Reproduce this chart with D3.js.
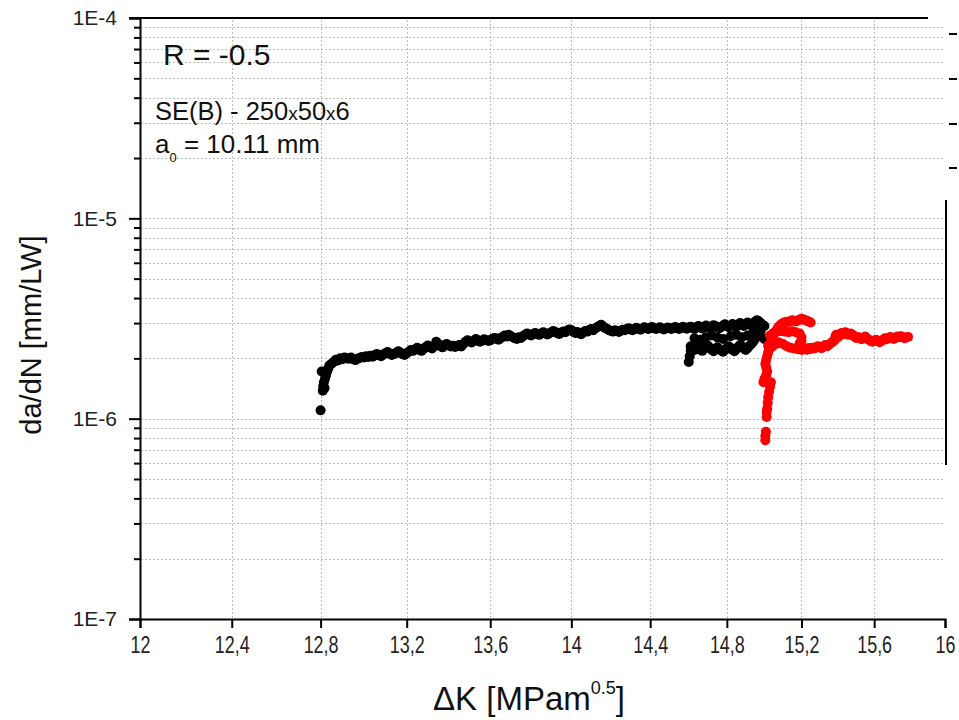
<!DOCTYPE html>
<html>
<head>
<meta charset="utf-8">
<script src="https://cdn.jsdelivr.net/npm/d3@7/dist/d3.min.js"></script>
<style>
  body { margin: 0; background: #fff; }
  svg { display: block; }
  .tick text { fill: #222; }
</style>
</head>
<body>
<svg id="chart" width="959" height="720"></svg>
<script>
// tick labels
const xTicks = [12, 12.4, 12.8, 13.2, 13.6, 14, 14.4, 14.8, 15.2, 15.6, 16];
const yMajor = [1e-7, 1e-6, 1e-5, 1e-4];

// [dK (MPa m^0.5), da/dN (x1E-6 mm/LW)]
const blackSeries = [
  [12.800,1.10],[12.805,1.72],[12.810,1.38],[12.812,1.45],[12.815,1.52],[12.818,1.42],[12.820,1.58],
  [12.825,1.65],[12.830,1.72],[12.835,1.78],[12.840,1.84],[12.850,1.88],[12.860,1.92],[12.870,1.97],
  [12.880,1.95],[12.890,2.00],[12.900,1.98],[12.910,2.02],[12.920,2.00],[12.930,1.99],[12.940,2.02],
  [12.950,1.98],[12.960,1.96],[12.970,1.99],[12.980,2.01],[12.990,2.03],[13.000,2.02],[13.010,2.05],
  [13.020,2.03],[13.030,2.06],[13.040,2.04],[13.050,2.08],[13.060,2.10],[13.070,2.07],[13.080,2.05],
  [13.090,2.09],[13.100,2.12],[13.110,2.15],[13.120,2.11],[13.130,2.08],[13.140,2.10],[13.150,2.13],
  [13.160,2.17],[13.170,2.14],[13.180,2.10],[13.190,2.08],[13.200,2.12],[13.210,2.16],[13.220,2.20],
  [13.230,2.18],[13.240,2.22],[13.250,2.26],[13.260,2.20],[13.270,2.18],[13.280,2.23],[13.290,2.28],
  [13.300,2.32],[13.310,2.27],[13.320,2.24],[13.330,2.30],[13.340,2.42],[13.350,2.36],[13.360,2.30],
  [13.370,2.27],[13.380,2.33],[13.390,2.36],[13.400,2.32],[13.410,2.29],[13.420,2.31],[13.430,2.28],
  [13.440,2.30],[13.450,2.33],[13.460,2.29],[13.470,2.36],[13.480,2.42],[13.490,2.46],[13.500,2.43],
  [13.510,2.40],[13.520,2.44],[13.530,2.50],[13.540,2.46],[13.550,2.42],[13.560,2.45],[13.570,2.49],
  [13.580,2.47],[13.590,2.44],[13.600,2.46],[13.610,2.50],[13.620,2.53],[13.630,2.51],[13.640,2.48],
  [13.650,2.52],[13.660,2.56],[13.670,2.60],[13.680,2.57],[13.690,2.62],[13.700,2.58],[13.710,2.55],
  [13.720,2.52],[13.730,2.50],[13.740,2.55],[13.750,2.53],[13.760,2.58],[13.770,2.62],[13.780,2.66],
  [13.790,2.63],[13.800,2.60],[13.810,2.64],[13.820,2.68],[13.830,2.65],[13.840,2.62],[13.850,2.66],
  [13.860,2.70],[13.870,2.67],[13.880,2.63],[13.890,2.66],[13.900,2.70],[13.910,2.74],[13.920,2.71],
  [13.930,2.67],[13.940,2.65],[13.950,2.69],[13.960,2.72],[13.970,2.70],[13.980,2.75],[13.990,2.79],
  [14.000,2.76],[14.010,2.72],[14.020,2.68],[14.030,2.71],[14.040,2.66],[14.050,2.64],[14.060,2.70],
  [14.070,2.74],[14.080,2.72],[14.090,2.77],[14.100,2.80],[14.110,2.76],[14.120,2.82],[14.130,2.86],
  [14.140,2.90],[14.150,2.94],[14.160,2.88],[14.170,2.84],[14.180,2.80],[14.190,2.76],[14.200,2.74],
  [14.210,2.72],[14.220,2.76],[14.230,2.74],[14.240,2.71],[14.250,2.75],[14.260,2.78],[14.270,2.76],
  [14.280,2.80],[14.290,2.83],[14.300,2.79],[14.310,2.76],[14.320,2.80],[14.330,2.84],[14.340,2.81],
  [14.350,2.78],[14.360,2.82],[14.370,2.86],[14.380,2.83],[14.390,2.80],[14.400,2.84],[14.410,2.87],
  [14.420,2.83],[14.430,2.80],[14.440,2.83],[14.450,2.86],[14.460,2.82],[14.470,2.79],[14.480,2.82],
  [14.490,2.85],[14.500,2.83],[14.510,2.80],[14.520,2.84],[14.530,2.87],[14.540,2.83],[14.550,2.80],
  [14.560,2.84],[14.570,2.88],[14.580,2.84],[14.590,2.81],[14.600,2.85],
  // upper track
  [14.610,2.88],[14.620,2.84],[14.630,2.80],[14.640,2.86],[14.650,2.90],[14.660,2.86],[14.670,2.82],
  [14.680,2.86],[14.690,2.92],[14.700,2.88],[14.710,2.84],[14.720,2.88],[14.730,2.93],[14.740,2.89],
  [14.750,2.85],[14.760,2.82],[14.770,2.87],[14.780,2.92],[14.790,2.96],[14.800,2.90],[14.810,2.86],
  [14.820,2.91],[14.830,2.97],[14.840,2.93],[14.850,2.88],[14.860,2.94],[14.870,3.00],[14.880,2.96],
  [14.890,2.90],[14.900,2.95],[14.910,3.02],[14.920,2.98],[14.930,2.92],[14.940,2.97],[14.950,3.05],
  [14.960,3.10],[14.970,3.06],[14.980,3.00],[14.990,2.94],[15.000,2.90],
  // lower track
  [14.600,1.92],[14.605,2.05],[14.610,2.18],[14.610,2.30],[14.620,2.25],[14.630,2.20],[14.640,2.24],
  [14.650,2.28],[14.660,2.22],[14.670,2.18],[14.680,2.23],[14.690,2.27],[14.700,2.31],[14.710,2.26],
  [14.720,2.21],[14.730,2.17],[14.740,2.22],[14.750,2.27],[14.760,2.23],[14.770,2.19],[14.780,2.16],
  [14.790,2.20],[14.800,2.25],[14.810,2.30],[14.820,2.26],[14.830,2.21],[14.840,2.17],[14.850,2.22],
  [14.860,2.28],[14.870,2.33],[14.880,2.29],[14.890,2.24],[14.900,2.20],[14.910,2.25],[14.920,2.31],
  [14.930,2.36],[14.940,2.42],[14.950,2.50],[14.960,2.58],[14.970,2.66],[14.980,2.74],
  // middle track
  [14.630,2.52],[14.660,2.48],[14.690,2.55],[14.720,2.60],[14.750,2.54],[14.780,2.50],[14.820,2.58],
  [14.850,2.62],[14.880,2.55],[14.910,2.60],[14.940,2.68],[14.970,2.80],[15.000,2.50]
];

const redSeries = [
  // drop
  [15.005,0.78],[15.005,0.82],[15.008,0.86],[15.012,1.02],[15.012,1.08],[15.015,1.12],[15.018,1.20],
  [15.020,1.28],[15.025,1.36],[15.030,1.44],[15.035,1.52],[14.995,1.52],[15.000,1.58],[15.010,1.65],
  [15.015,1.72],[15.010,1.80],[15.005,1.88],[15.010,1.96],[15.015,2.05],[15.020,2.14],[15.025,2.22],
  [15.030,2.30],[15.035,2.38],[15.040,2.46],[15.045,2.55],[15.050,2.64],[15.060,2.72],[15.070,2.82],
  // upper loop
  [15.080,2.90],[15.090,2.96],[15.100,3.00],[15.110,3.03],[15.120,3.05],[15.130,3.04],[15.140,3.07],
  [15.150,3.10],[15.160,3.08],[15.170,3.06],[15.180,3.09],[15.190,3.12],[15.200,3.15],[15.210,3.13],
  [15.220,3.10],[15.230,3.08],[15.240,3.05],[15.250,3.02],
  // second track
  [15.030,2.60],[15.050,2.68],[15.070,2.72],[15.090,2.75],[15.110,2.72],[15.130,2.70],[15.150,2.73],
  [15.170,2.70],[15.190,2.66],[15.200,2.55],[15.200,2.45],[15.190,2.38],
  // lower loop
  [15.020,2.32],[15.040,2.28],[15.060,2.35],[15.080,2.40],[15.100,2.36],[15.120,2.30],[15.140,2.26],
  [15.160,2.24],[15.180,2.22],[15.200,2.20],
  // tail
  [15.210,2.22],[15.220,2.24],[15.230,2.21],[15.240,2.25],[15.250,2.23],[15.260,2.26],[15.270,2.24],
  [15.280,2.27],[15.290,2.30],[15.300,2.27],[15.310,2.25],[15.320,2.29],[15.330,2.33],[15.340,2.30],
  [15.350,2.34],[15.360,2.38],[15.370,2.42],[15.380,2.46],[15.385,2.56],[15.390,2.62],[15.400,2.55],
  [15.410,2.62],[15.420,2.68],[15.430,2.64],[15.440,2.70],[15.450,2.66],[15.460,2.62],[15.470,2.66],
  [15.480,2.62],[15.490,2.57],[15.500,2.53],[15.510,2.56],[15.520,2.52],[15.530,2.49],[15.540,2.53],
  [15.550,2.57],[15.560,2.52],[15.570,2.48],[15.580,2.45],[15.590,2.42],[15.600,2.45],[15.610,2.48],
  [15.620,2.44],[15.630,2.41],[15.640,2.44],[15.650,2.48],[15.660,2.52],[15.670,2.49],[15.680,2.53],
  [15.690,2.56],[15.700,2.53],[15.710,2.50],[15.720,2.54],[15.730,2.57],[15.740,2.55],[15.750,2.58],
  [15.760,2.55],[15.770,2.52],[15.780,2.54],[15.790,2.56]
];

const svg = d3.select("#chart");
const plotL = 140, plotR = 945, plotT = 18, plotB = 619;

const x = d3.scaleLog().domain([12, 16]).range([plotL, plotR]);
const y = d3.scaleLog().domain([1e-7, 1e-4]).range([plotB, plotT]);

// minor decade ticks 2..9
const yMinor = [];
[-7, -6, -5].forEach(e => { for (let m = 2; m <= 9; m++) yMinor.push(m * Math.pow(10, e)); });

// grid
const grid = svg.append("g").attr("stroke", "#bdbdbd").attr("stroke-width", 1).attr("stroke-dasharray", "2,2");
grid.selectAll(".gy").data(yMajor.concat(yMinor).filter(v => v > 1e-7 && v < 1e-4)).enter()
  .append("line")
  .attr("x1", plotL + 1).attr("x2", plotR - 2)
  .attr("y1", d => Math.round(y(d)) + 0.5).attr("y2", d => Math.round(y(d)) + 0.5);
grid.selectAll(".gx").data(xTicks.slice(1, -1)).enter()
  .append("line")
  .attr("y1", plotT + 2).attr("y2", plotB - 1)
  .attr("x1", d => Math.round(x(d)) + 0.5).attr("x2", d => Math.round(x(d)) + 0.5);

// data
function drawSeries(data, color) {
  svg.append("g").selectAll("circle").data(data).enter()
    .append("circle")
    .attr("cx", d => x(d[0]))
    .attr("cy", d => y(d[1] * 1e-6))
    .attr("r", 5)
    .attr("fill", color);
}
drawSeries(blackSeries, "#000");
drawSeries(redSeries, "#ff0000");

// axes
const xAxis = svg.append("g")
  .attr("transform", "translate(0," + plotB + ")")
  .call(d3.axisBottom(x).tickValues(xTicks).tickSize(9).tickPadding(9)
    .tickFormat(d => String(d).replace(".", ",")));
xAxis.selectAll("text")
  .attr("font-family", "'Liberation Sans', Arial, sans-serif")
  .attr("font-size", 23)
  .attr("transform", "scale(0.78,1)");

const yAxis = svg.append("g")
  .attr("transform", "translate(" + plotL + ",0)")
  .call(d3.axisLeft(y).tickValues(yMajor).tickSize(11).tickPadding(12)
    .tickFormat(d => "1E" + Math.round(Math.log10(d))));
yAxis.selectAll("text").attr("font-family", "'Liberation Sans', Arial, sans-serif").attr("font-size", 21);

svg.append("g")
  .attr("transform", "translate(" + plotL + ",0)")
  .call(d3.axisLeft(y).tickValues(yMinor).tickSize(6).tickFormat(""))
  .select(".domain").remove();

[xAxis, yAxis].forEach(a => a.select(".domain").attr("stroke-width", 2));
svg.selectAll(".tick line").attr("stroke", "#000").attr("stroke-width", 2);
svg.selectAll(".domain").attr("stroke", "#000");

// top spine (ends short of the right edge, as in the source)
svg.append("line").attr("x1", plotL - 11).attr("x2", 928).attr("y1", plotT).attr("y2", plotT)
  .attr("stroke", "#000").attr("stroke-width", 2);
// right edge fragments
svg.append("line").attr("x1", 946).attr("x2", 946).attr("y1", 200).attr("y2", 465)
  .attr("stroke", "#000").attr("stroke-width", 2);
svg.append("g").selectAll("line").data([34, 79, 124, 168]).enter()
  .append("line").attr("x1", 949).attr("x2", 957).attr("y1", d => d).attr("y2", d => d)
  .attr("stroke", "#000").attr("stroke-width", 2);

// annotations
const ann = svg.append("g").attr("font-family", "'Liberation Sans', Arial, sans-serif").attr("fill", "#111");
ann.append("text").attr("x", 163).attr("y", 65).attr("font-size", 30).text("R = -0.5");
const t2 = ann.append("text").attr("x", 155).attr("y", 120).attr("font-size", 25.5);
t2.append("tspan").text("SE(B) - 250");
t2.append("tspan").attr("font-size", 19).text("x");
t2.append("tspan").text("50");
t2.append("tspan").attr("font-size", 19).text("x");
t2.append("tspan").text("6");
const t3 = ann.append("text").attr("x", 155).attr("y", 153).attr("font-size", 26);
t3.append("tspan").text("a");
t3.append("tspan").attr("font-size", 13).attr("dy", 9).text("0");
t3.append("tspan").attr("dy", -9).text(" = 10.11 mm");

// axis titles
svg.append("text")
  .attr("transform", "translate(41,335) rotate(-90)")
  .attr("text-anchor", "middle")
  .attr("font-family", "'Liberation Sans', Arial, sans-serif")
  .attr("font-size", 29).attr("fill", "#111")
  .text("da/dN [mm/LW]");

const xt = svg.append("text")
  .attr("x", 529).attr("y", 710)
  .attr("text-anchor", "middle")
  .attr("font-family", "'Liberation Sans', Arial, sans-serif")
  .attr("font-size", 33).attr("fill", "#111");
xt.append("tspan").text("\u0394K [MPam");
xt.append("tspan").attr("font-size", 18).attr("dy", -16).text("0.5");
xt.append("tspan").attr("dy", 16).text("]");
</script>
</body>
</html>
